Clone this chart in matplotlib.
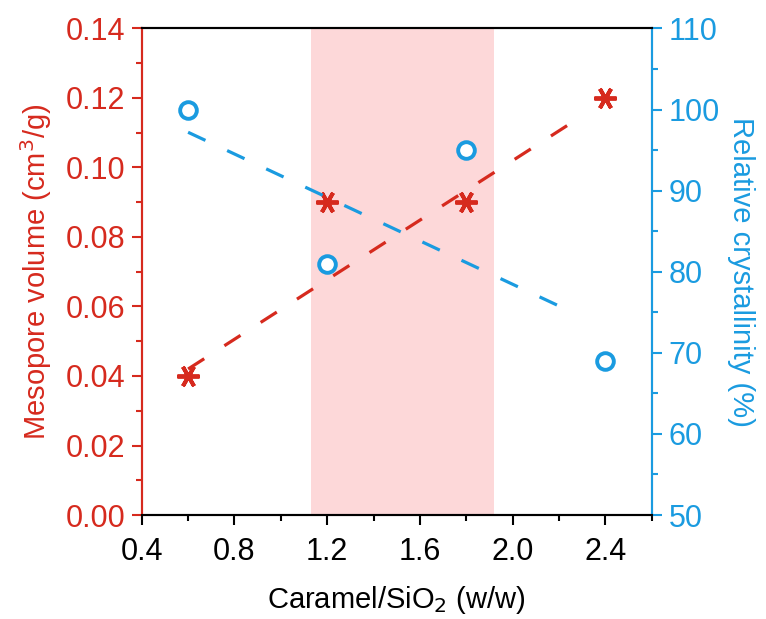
import matplotlib
matplotlib.use("Agg")
import matplotlib.pyplot as plt
from matplotlib.ticker import MultipleLocator

plt.rcParams['font.family'] = ['Liberation Sans', 'DejaVu Sans']

RED = '#d62a1e'
BLUE = '#1a9be0'

ratio = [0.6, 1.2, 1.8, 2.4]
mesopore = [0.04, 0.09, 0.09, 0.12]
crystallinity = [100, 81, 95, 69]

# trend line end points
trend_x = [0.6, 2.28]
meso_trend = [0.042, 0.114]
cryst_trend = [97.2, 74.7]

shade_range = (1.13, 1.92)

fig = plt.figure(figsize=(7.66, 6.19), dpi=100)
ax = fig.add_axes([0.185, 0.168, 0.666, 0.786])
ax2 = ax.twinx()

ax.axvspan(*shade_range, color='#fdd8d9', lw=0, zorder=0)

ax.plot(trend_x, meso_trend, color=RED, lw=2.3, dashes=(6, 7.5))
ax.plot(ratio, mesopore, ls='none', marker=(6, 2, 30), ms=16, mew=2.8,
        color=RED, mec=RED)

ax2.plot(trend_x, cryst_trend, color=BLUE, lw=2.3, dashes=(6, 7.5))
ax2.plot(ratio, crystallinity, ls='none', marker='o', ms=12, mew=2.8,
         mfc='white', mec=BLUE)

ax.set_xlim(0.4, 2.6)
ax.set_ylim(0, 0.14)
ax2.set_ylim(50, 110)

ax.xaxis.set_major_locator(MultipleLocator(0.4))
ax.xaxis.set_minor_locator(MultipleLocator(0.2))
ax.yaxis.set_major_locator(MultipleLocator(0.02))
ax.yaxis.set_minor_locator(MultipleLocator(0.01))
ax2.yaxis.set_major_locator(MultipleLocator(10))
ax2.yaxis.set_minor_locator(MultipleLocator(5))
ax.set_xticklabels([f'{v:.1f}' for v in ax.get_xticks()])
ax.set_yticklabels([f'{v:.2f}' for v in ax.get_yticks()])

for a in (ax, ax2):
    a.tick_params(which='major', length=7, width=1.5, labelsize=22, pad=5)
    a.tick_params(which='minor', length=4, width=1.5)
    for s in a.spines.values():
        s.set_linewidth(1.5)
ax.tick_params(axis='x', pad=9)

ax.tick_params(axis='y', which='both', colors=RED)
ax2.tick_params(axis='y', which='both', colors=BLUE)
ax2.spines['left'].set_color(RED)
ax2.spines['right'].set_color(BLUE)
ax.spines['left'].set_color(RED)
ax.spines['right'].set_color(BLUE)

ax.set_xlabel('Caramel/SiO$_2$ (w/w)', fontsize=21, labelpad=12)
ax.set_ylabel('Mesopore volume (cm$^3$/g)', fontsize=21, color=RED, labelpad=8)
ax2.set_ylabel('Relative crystallinity (%)', fontsize=21, color=BLUE,
               rotation=270, labelpad=25)

fig.savefig('out.png', dpi=100)
